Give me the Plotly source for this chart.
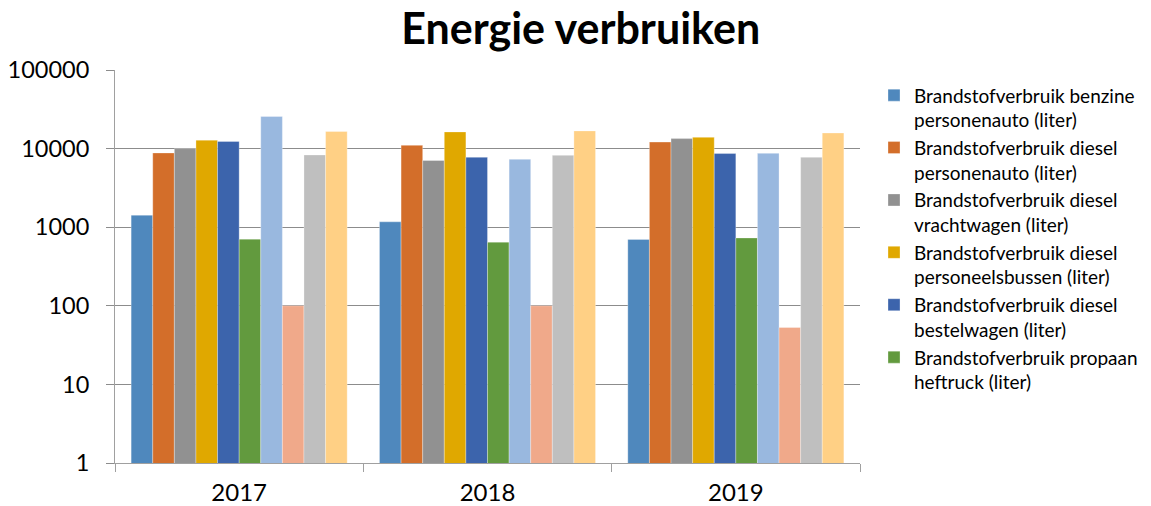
import plotly.graph_objects as go

years = ["2017", "2018", "2019"]

series_names = [
    "Brandstofverbruik benzine<br>personenauto (liter)",
    "Brandstofverbruik diesel<br>personenauto (liter)",
    "Brandstofverbruik diesel<br>vrachtwagen (liter)",
    "Brandstofverbruik diesel<br>personeelsbussen (liter)",
    "Brandstofverbruik diesel<br>bestelwagen (liter)",
    "Brandstofverbruik propaan<br>heftruck (liter)",
    "Reeks 7",
    "Reeks 8",
    "Reeks 9",
    "Reeks 10",
]

benzine_personenauto = [1420, 1170, 700]
diesel_personenauto = [8800, 11000, 12100]
diesel_vrachtwagen = [10000, 7050, 13400]
diesel_personeelsbussen = [12800, 16300, 13900]
diesel_bestelwagen = [12300, 7750, 8650]
propaan_heftruck = [705, 645, 730]
reeks7 = [25600, 7300, 8700]
reeks8 = [100, 100, 53]
reeks9 = [8300, 8200, 7750]
reeks10 = [16500, 16800, 15800]

series_values = [
    benzine_personenauto, diesel_personenauto, diesel_vrachtwagen,
    diesel_personeelsbussen, diesel_bestelwagen, propaan_heftruck,
    reeks7, reeks8, reeks9, reeks10,
]

colors = ["#4F88BD", "#D36E2A", "#919191", "#E0A800", "#3C64AC",
          "#629A3E", "#99B8DF", "#F0A98A", "#BFBFBF", "#FFD085"]

legend_visible = [True] * 6 + [False] * 4

y_tickvals = [1, 10, 100, 1000, 10000, 100000]
y_ticktext = ["1", "10", "100", "1000", "10000", "100000"]

fig = go.Figure()
for name, vals, col, show in zip(series_names, series_values, colors, legend_visible):
    fig.add_trace(go.Bar(
        x=years, y=vals, name=name, showlegend=show,
        marker=dict(color=col, line=dict(color="rgba(255,255,255,0.6)", width=0.5)),
    ))

font_family = "Lato, 'Open Sans', sans-serif"

fig.update_layout(
    width=1151, height=506,
    barmode="group", bargap=0.13, bargroupgap=0,
    paper_bgcolor="white", plot_bgcolor="white",
    margin=dict(l=115, r=291, t=70, b=43, autoexpand=False),
    font=dict(family=font_family, color="black"),
    title=dict(text="<b>Energie verbruiken</b>", x=0.5045, xanchor="center",
               y=1, yanchor="top", yref="container", pad=dict(t=14, b=0),
               font=dict(size=43, family=font_family, color="black")),
    legend=dict(x=1.0188, xanchor="left", y=0.984, yanchor="top",
                font=dict(size=19, family=font_family, color="black"),
                bgcolor="rgba(0,0,0,0)", tracegroupgap=0, valign="top"),
)

fig.update_xaxes(
    type="category", showline=True, linecolor="#A0A0A0", linewidth=1,
    ticks="outside", tickson="boundaries", ticklen=8, tickcolor="#A0A0A0",
    ticklabelstandoff=8, automargin=False,
    tickfont=dict(size=24, family=font_family, color="black"),
    showgrid=False,
)
fig.update_yaxes(
    type="log", range=[0, 5], tickvals=y_tickvals, ticktext=y_ticktext,
    showline=True, linecolor="#A0A0A0", linewidth=1,
    ticks="outside", ticklen=8, tickcolor="#8C8C8C",
    ticklabelstandoff=12, automargin=False,
    showgrid=True, gridcolor="#8C8C8C", gridwidth=1,
    tickfont=dict(size=23.5, family=font_family, color="black"),
    zeroline=False,
)

fig.write_html("out.html", config={"displayModeBar": False},
               post_script="document.body.style.margin='0';")
